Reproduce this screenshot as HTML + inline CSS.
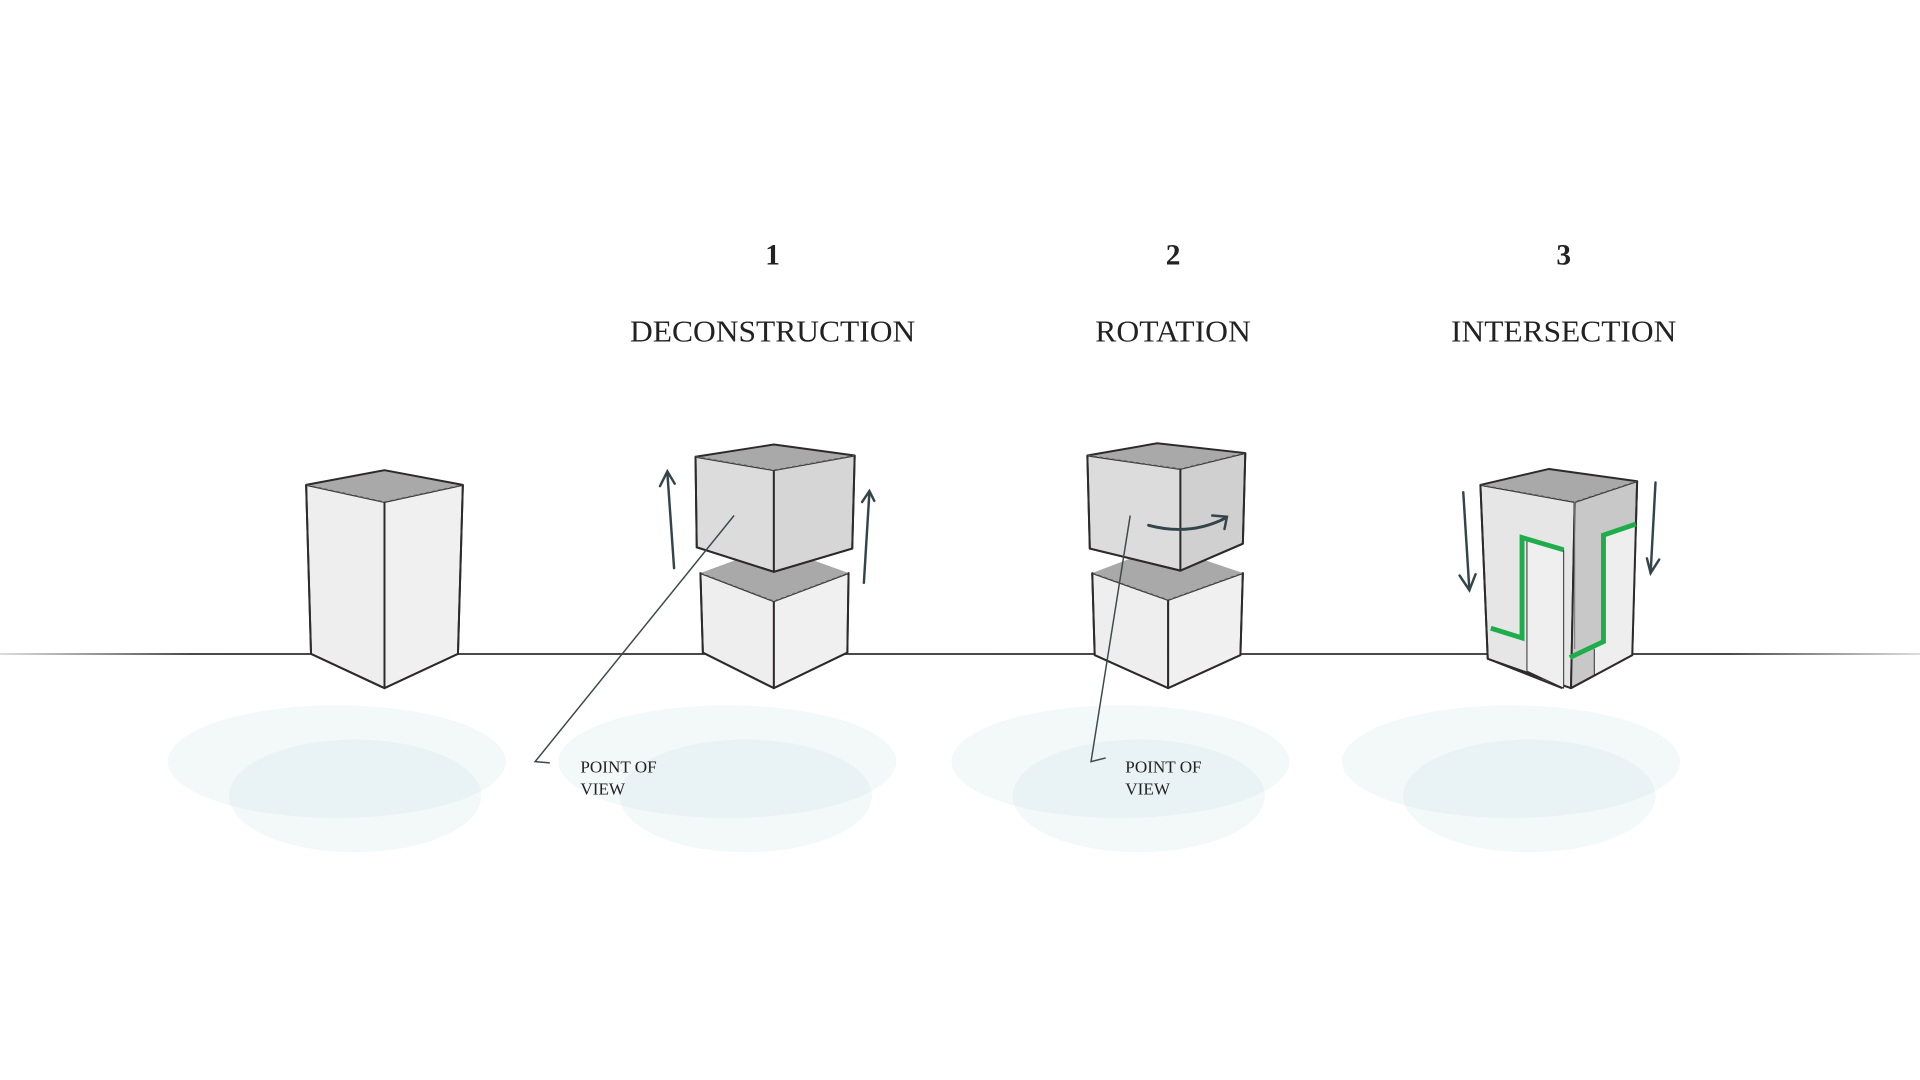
<!DOCTYPE html>
<html><head><meta charset="utf-8"><style>
html,body{margin:0;padding:0;background:#fff;}
svg{display:block;}
</style></head><body>
<svg width="1920" height="1080" viewBox="0 0 1568 882" xmlns="http://www.w3.org/2000/svg">
<defs>
<linearGradient id="gl" x1="0" x2="1" y1="0" y2="0">
<stop offset="0" stop-color="#555" stop-opacity="0.2"/>
<stop offset="0.1" stop-color="#4a4446" stop-opacity="1"/>
<stop offset="0.9" stop-color="#4a4446" stop-opacity="1"/>
<stop offset="1" stop-color="#555" stop-opacity="0.2"/>
</linearGradient>
<clipPath id="c1"><ellipse cx="275" cy="622" rx="138" ry="46"/></clipPath>
<clipPath id="c2"><ellipse cx="594" cy="622" rx="138" ry="46"/></clipPath>
<clipPath id="c3"><ellipse cx="915" cy="622" rx="138" ry="46"/></clipPath>
<clipPath id="c4"><ellipse cx="1234" cy="622" rx="138" ry="46"/></clipPath>
</defs>
<rect width="1568" height="882" fill="#fff"/>
<g fill="#f3f8f9">
<ellipse cx="275" cy="622" rx="138" ry="46"/>
<ellipse cx="290" cy="650" rx="103" ry="46"/>
<ellipse cx="594" cy="622" rx="138" ry="46"/>
<ellipse cx="609" cy="650" rx="103" ry="46"/>
<ellipse cx="915" cy="622" rx="138" ry="46"/>
<ellipse cx="930" cy="650" rx="103" ry="46"/>
<ellipse cx="1234" cy="622" rx="138" ry="46"/>
<ellipse cx="1249" cy="650" rx="103" ry="46"/>
</g>
<g fill="#e9f2f4">
<ellipse cx="290" cy="650" rx="103" ry="46" clip-path="url(#c1)"/>
<ellipse cx="609" cy="650" rx="103" ry="46" clip-path="url(#c2)"/>
<ellipse cx="930" cy="650" rx="103" ry="46" clip-path="url(#c3)"/>
<ellipse cx="1249" cy="650" rx="103" ry="46" clip-path="url(#c4)"/>
</g>
<rect x="0" y="533.3" width="1568" height="1.6" fill="url(#gl)"/>

<g stroke="#2e2a2b" stroke-width="1.6" stroke-linejoin="round">
<polygon points="250,396 314,410 314,562 254,534" fill="#eeeeee"/>
<polygon points="314,410 378,396 374,534 314,562" fill="#f0f0f0"/>
<polygon points="250,396 314,384 378,396 314,410" fill="#a9a9a9" stroke-width="0"/>
<path d="M250,396 L314,384 L378,396" fill="none"/>
<path d="M250,396 L314,410 L378,396" fill="none" stroke="#555" stroke-width="1" stroke-dasharray="3,2"/>
<path d="M250,396 L254,534 L314,562 L374,534 L378,396" fill="none"/>
<line x1="314" y1="410" x2="314" y2="562" stroke-width="1"/>

<polygon points="572,468 632,491 632,562 574,533" fill="#eeeeee"/>
<polygon points="632,491 693,468 692,533 632,562" fill="#f0f0f0"/>
<polygon points="572,468 632,446 693,468 632,491" fill="#a9a9a9" stroke-width="0"/>
<path d="M572,468 L632,491 L693,468" fill="none" stroke="#555" stroke-width="1" stroke-dasharray="3,2"/>
<path d="M572,468 L574,533 L632,562 L692,533 L693,468" fill="none"/>
<line x1="632" y1="491" x2="632" y2="562" stroke-width="1"/>
<polygon points="568,373 632,384 632,467 569,447" fill="#dcdcdc"/>
<polygon points="632,384 698,372 696,448 632,467" fill="#d6d6d6"/>
<polygon points="568,373 632,363 698,372 632,384" fill="#a9a9a9" stroke-width="0"/>
<path d="M568,373 L632,363 L698,372" fill="none"/>
<path d="M568,373 L632,384 L698,372" fill="none" stroke="#555" stroke-width="1" stroke-dasharray="3,2"/>
<path d="M568,373 L569,447 L632,467 L696,448 L698,372" fill="none"/>
<line x1="632" y1="384" x2="632" y2="467" stroke-width="1"/>

<polygon points="892,468 954,490 954,562 894,535" fill="#eeeeee"/>
<polygon points="954,490 1015,468 1013,535 954,562" fill="#f0f0f0"/>
<polygon points="892,468 950,446 1015,468 954,490" fill="#a9a9a9" stroke-width="0"/>
<path d="M892,468 L954,490 L1015,468" fill="none" stroke="#555" stroke-width="1" stroke-dasharray="3,2"/>
<path d="M892,468 L894,535 L954,562 L1013,535 L1015,468" fill="none"/>
<line x1="954" y1="490" x2="954" y2="562" stroke-width="1"/>
<polygon points="888,372 964,383 964,466 890,448" fill="#dcdcdc"/>
<polygon points="964,383 1017,370 1015,444 964,466" fill="#d0d0d0"/>
<polygon points="888,372 945,362 1017,370 964,383" fill="#a9a9a9" stroke-width="0"/>
<path d="M888,372 L945,362 L1017,370" fill="none"/>
<path d="M888,372 L964,383 L1017,370" fill="none" stroke="#555" stroke-width="1" stroke-dasharray="3,2"/>
<path d="M888,372 L890,448 L964,466 L1015,444 L1017,370" fill="none"/>
<line x1="964" y1="383" x2="964" y2="466" stroke-width="1"/>

<polygon points="1209,396 1286,410 1283,562 1215,538" fill="#e6e6e6"/>
<polygon points="1286,410 1337,393 1333,535 1283,562" fill="#c8c8c8"/>
<polygon points="1247,440 1277,449 1277,562 1247,548" fill="#efefef" stroke-width="0.8"/>
<polygon points="1309,437 1336,428 1333,535 1302,551 1302,530 1309,524" fill="#eeeeee" stroke-width="0"/>
<line x1="1302" y1="530" x2="1302" y2="551" stroke-width="0.8"/>
<polygon points="1209,396 1265,383 1337,393 1286,410" fill="#a9a9a9" stroke-width="0"/>
<path d="M1209,396 L1265,383 L1337,393" fill="none"/>
<path d="M1209,396 L1286,410 L1337,393" fill="none" stroke="#555" stroke-width="1" stroke-dasharray="3,2"/>
<path d="M1209,396 L1215,538 L1276,562 M1283,562 L1333,535 L1337,393" fill="none"/>
<line x1="1286" y1="410" x2="1286" y2="530" stroke-width="0.8" stroke="#777"/>
</g>
<g fill="none" stroke="#1fad4b" stroke-width="4" stroke-linejoin="miter">
<path d="M1217.5,513 L1243,521 L1243,439 L1277,449"/>
<path d="M1282,537 L1309.5,524 L1309.5,437 L1336,428"/>
</g>

<g fill="none" stroke="#34454a" stroke-width="2" stroke-linecap="round">
<path d="M550.5,464 L545,386"/><path d="M539,397 L545,385 L551,395"/>
<path d="M705.5,476 L710,402"/><path d="M704,410 L710,401 L714,409"/>
<path d="M1200,482 L1195,402"/><path d="M1192,470 L1200,482 L1205,469"/>
<path d="M1348,468 L1352,394"/><path d="M1345,456 L1348,468 L1355,457"/>
<path d="M938,429 Q972,438 1001,423" stroke-width="2.4"/><path d="M990,421 L1002,422 L1000,432"/>
</g>
<g fill="none" stroke="#3c4a4c" stroke-width="1.2">
<path d="M599.5,421 L437,622 L449,623"/>
<path d="M923,421 L891,622 L903,619"/>
</g>

<g font-family="'Liberation Serif', serif" fill="#222" text-anchor="middle">
<text x="631" y="216" font-size="24" font-weight="bold">1</text>
<text x="958" y="216" font-size="24" font-weight="bold">2</text>
<text x="1277" y="216" font-size="24" font-weight="bold">3</text>
<text x="631" y="279" font-size="25" textLength="233" lengthAdjust="spacingAndGlyphs">DECONSTRUCTION</text>
<text x="958" y="279" font-size="25" textLength="127" lengthAdjust="spacingAndGlyphs">ROTATION</text>
<text x="1277" y="279" font-size="25" textLength="184" lengthAdjust="spacingAndGlyphs">INTERSECTION</text>
</g>
<g font-family="'Liberation Serif', serif" fill="#222" font-size="14">
<text x="474" y="631">POINT OF</text><text x="474" y="649">VIEW</text>
<text x="919" y="631">POINT OF</text><text x="919" y="649">VIEW</text>
</g>
</svg>
</body></html>
